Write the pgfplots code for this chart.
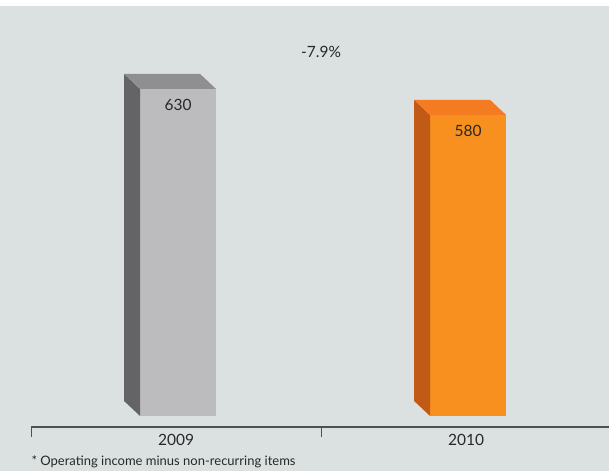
\documentclass[border=0pt]{standalone}
\usepackage{pgfplots}
\pgfplotsset{compat=1.18}
\usepackage{fontspec}
\setmainfont{Lato}
\definecolor{bg}{RGB}{218,225,224}
\definecolor{gfront}{RGB}{188,188,190}
\definecolor{gside}{RGB}{100,100,102}
\definecolor{gtop}{RGB}{143,143,145}
\definecolor{ofront}{RGB}{247,144,30}
\definecolor{oside}{RGB}{192,90,22}
\definecolor{otop}{RGB}{245,123,34}
\definecolor{txt}{RGB}{40,40,40}
\definecolor{axl}{RGB}{80,80,80}
\begin{document}
\begin{tikzpicture}[x=1pt,y=1pt]
\useasboundingbox (0,0) rectangle (609,471);
\fill[white] (0,0) rectangle (609,471);
\fill[bg] (0,0) rectangle (609,465);
\begin{axis}[
  at={(31pt,44pt)}, anchor=south west,
  scale only axis, width=578pt, height=427pt,
  xmin=-0.5, xmax=1.493, ymin=-21.2, ymax=801.4,
  axis x line=bottom, axis y line=none,
  axis line style={axl, line width=1.1pt, -},
  xtick={-0.5,0.5,1.5}, xticklabels={},
  major tick length=10pt, tick align=outside,
  tick style={axl, line width=1pt},
  extra x ticks={0,1}, extra x tick labels={2009,2010},
  extra x tick style={major tick length=0pt, tick label style={font=\fontsize{15.5}{18}\selectfont, text=txt, yshift=-4pt}},
  clip=false,
]
% front faces
\addplot[ybar, bar width=76pt, bar shift=0pt, fill=gfront, draw=none] coordinates {(0.007,630)};
\addplot[ybar, bar width=76pt, bar shift=0pt, fill=ofront, draw=none] coordinates {(1.007,580)};
% side and top faces (3D effect)
\addplot[sharp plot, fill=gside, draw=none] coordinates {(-0.124,0) (-0.179,28.9) (-0.179,658.9) (-0.124,630)} -- cycle;
\addplot[sharp plot, fill=gtop, draw=none] coordinates {(-0.124,630) (-0.179,658.9) (0.083,658.9) (0.138,630)} -- cycle;
\addplot[sharp plot, fill=oside, draw=none] coordinates {(0.876,0) (0.821,28.9) (0.821,608.9) (0.876,580)} -- cycle;
\addplot[sharp plot, fill=otop, draw=none] coordinates {(0.876,580) (0.821,608.9) (1.083,608.9) (1.138,580)} -- cycle;
\node[anchor=north, text=txt, font=\fontsize{15.5}{18}\selectfont] at (axis cs:0.007,617) {630};
\node[anchor=north, text=txt, font=\fontsize{15.5}{18}\selectfont] at (axis cs:1.007,567) {580};
\node[text=txt, font=\fontsize{15.5}{18}\selectfont] at (axis cs:0.5,701) {-7.9\%};
\end{axis}
\node[anchor=west, text=txt, font=\fontsize{13}{15}\selectfont] at (28,9) {* Operating income minus non-recurring items};
\end{tikzpicture}
\end{document}
